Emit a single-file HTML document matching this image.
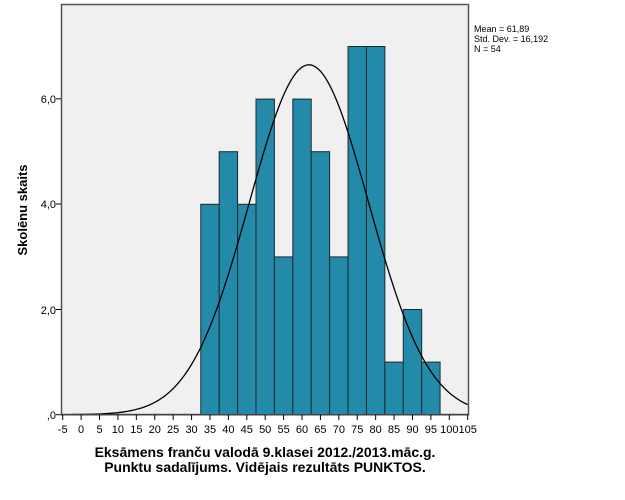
<!DOCTYPE html>
<html><head><meta charset="utf-8"><style>
html,body{margin:0;padding:0;background:#fff;}
svg{display:block;font-family:"Liberation Sans",Arial,sans-serif;}
</style></head><body>
<svg id="s" width="625" height="500" viewBox="0 0 625 500">
<rect x="61.5" y="4.5" width="407" height="410" fill="#f0f0f0" stroke="#555" stroke-width="1.5"/>
<g id="bars" fill="#238aaa" stroke="#1a2a30" stroke-width="1"></g>
<path id="curve" fill="none" stroke="#000" stroke-width="1.3"/>
<line x1="61" y1="414.7" x2="469" y2="414.7" stroke="#444" stroke-width="1.5"/>
<g id="xt" font-size="11" text-anchor="middle" fill="#000"></g>
<g font-size="11" text-anchor="end">
<text x="56" y="103">6,0</text><line x1="56" y1="98.8" x2="61" y2="98.8" stroke="#000"/>
<text x="56" y="208">4,0</text><line x1="56" y1="204" x2="61" y2="204" stroke="#000"/>
<text x="56" y="314">2,0</text><line x1="56" y1="309.5" x2="61" y2="309.5" stroke="#000"/>
<text x="56" y="419">,0</text><line x1="56" y1="414.7" x2="61" y2="414.7" stroke="#000"/>
</g>
<text transform="translate(27,210) rotate(-90)" font-size="13" font-weight="bold" text-anchor="middle">Skolēnu skaits</text>
<g font-size="9"><text x="474" y="32">Mean = 61,89</text><text x="474" y="42">Std. Dev. = 16,192</text><text x="474" y="52">N = 54</text></g>
<g font-size="14" font-weight="bold" text-anchor="middle">
<text x="265" y="457">Eksāmens franču valodā 9.klasei 2012./2013.māc.g.</text>
<text x="265" y="472">Punktu sadalījums. Vidējais rezultāts PUNKTOS.</text>
</g>
</svg>
<script>
var X=function(v){return 62.7+(v+5)*3.6818;},Y=function(c){return 414.7-c*52.6;};
var ns="http://www.w3.org/2000/svg";
var counts=[4,5,4,6,3,6,5,3,7,7,1,2,1],b=document.getElementById("bars");
counts.forEach(function(c,i){var l=X(32.5+5*i),r=X(37.5+5*i),e=document.createElementNS(ns,"rect");
e.setAttribute("x",l);e.setAttribute("y",Y(c));e.setAttribute("width",r-l);e.setAttribute("height",Y(0)-Y(c));b.appendChild(e);});
var d="";for(var v=-5;v<=105;v+=0.5){var z=(v-61.89)/16.192,c=6.652*Math.exp(-z*z/2);d+=(v==-5?"M":"L")+X(v).toFixed(2)+","+Y(c).toFixed(2);}
document.getElementById("curve").setAttribute("d",d);
var xt=document.getElementById("xt");
for(var v=-5;v<=105;v+=5){var t=document.createElementNS(ns,"text");t.setAttribute("x",X(v));t.setAttribute("y",433);t.textContent=v;xt.appendChild(t);
var l=document.createElementNS(ns,"line");l.setAttribute("x1",X(v));l.setAttribute("x2",X(v));l.setAttribute("y1",414.7);l.setAttribute("y2",420);l.setAttribute("stroke","#000");xt.appendChild(l);}
</script>
</body></html>
